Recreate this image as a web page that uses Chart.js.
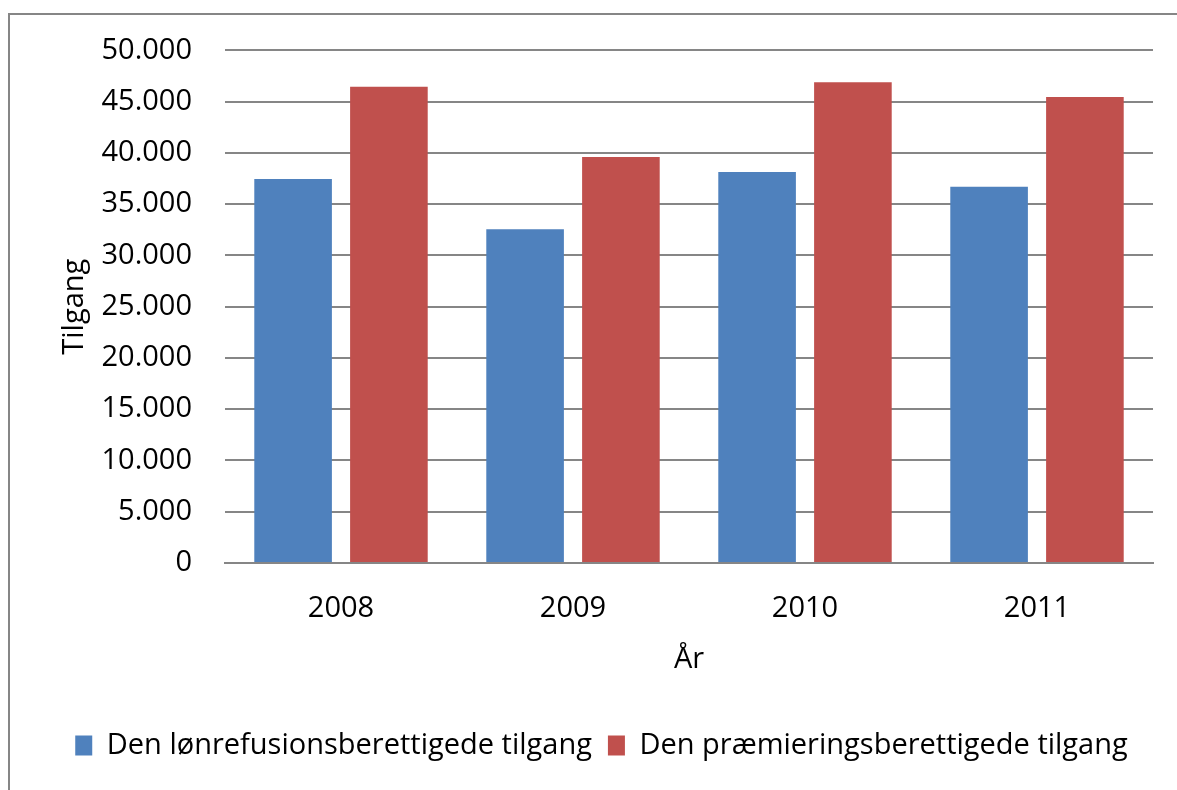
<!DOCTYPE html>
<html>
<head>
<meta charset="utf-8">
<script src="https://cdn.jsdelivr.net/npm/chart.js@4"></script>
<style>
    html, body { margin: 0; padding: 0; background: #fff; }
    #wrap { position: relative; width: 1177px; height: 790px; }
</style>
</head>
<body>
<div id="wrap"><canvas id="tilgangChart" width="1177" height="790"></canvas></div>
<script>
const years = ['2008', '2009', '2010', '2011'];
const loenrefusion = [37450, 32550, 38150, 36700];
const praemiering = [46450, 39600, 46900, 45450];
const seriesNames = ['Den lønrefusionsberettigede tilgang', 'Den præmieringsberettigede tilgang'];
const yTitle = 'Tilgang';
const xTitle = 'År';

const FONT = '"Open Sans", "DejaVu Sans", sans-serif';
const SIZE = 29;
const GRID = '#868686';

// thousands with dots, danish style
const fmt = (v) => String(v).replace(/\B(?=(\d{3})+(?!\d))/g, '.');

// the grey frame round the whole chart (runs off the right and bottom edge)
const framePlugin = {
    id: 'frame',
    beforeDraw(chart) {
        const ctx = chart.ctx;
        ctx.save();
        ctx.strokeStyle = GRID;
        ctx.lineWidth = 2;
        ctx.beginPath();
        ctx.moveTo(9, 800);
        ctx.lineTo(9, 14);
        ctx.lineTo(1190, 14);
        ctx.stroke();
        ctx.restore();
    }
};

new Chart('tilgangChart', {
    type: 'bar',
    data: {
        labels: years,
        datasets: [{
            label: seriesNames[0],
            data: loenrefusion,
            backgroundColor: '#4F81BD'
        }, {
            label: seriesNames[1],
            data: praemiering,
            backgroundColor: '#C0504D'
        }]
    },
    options: {
        responsive: false,
        animation: false,
        devicePixelRatio: 1,
        categoryPercentage: 0.826,
        barPercentage: 0.81,
        layout: { padding: { left: 50, top: 48, right: 24, bottom: 20 } },
        font: { family: FONT },
        scales: {
            x: {
                grid: { display: false, drawTicks: false },
                border: { display: true, color: GRID, width: 2 },
                ticks: { color: '#000', font: { family: FONT, size: SIZE }, padding: 28 },
                title: {
                    display: true, text: xTitle, color: '#000',
                    font: { family: FONT, size: SIZE },
                    padding: { top: 0, bottom: 38 }
                },
                afterFit: (s) => { s.height = 152; }
            },
            y: {
                min: 0,
                max: 50000,
                grid: { color: GRID, lineWidth: 2, drawTicks: false },
                border: { display: false },
                ticks: {
                    stepSize: 5000,
                    color: '#000',
                    padding: 33,
                    font: { family: FONT, size: SIZE },
                    callback: (v) => fmt(v)
                },
                title: {
                    display: true, text: yTitle, color: '#000',
                    font: { family: FONT, size: SIZE },
                    padding: { top: 7, bottom: 0 }
                },
                afterFit: (s) => { s.width = 175; }
            }
        },
        plugins: {
            legend: {
                position: 'bottom',
                labels: {
                    color: '#000',
                    font: { family: FONT, size: SIZE },
                    boxWidth: 17,
                    boxHeight: 20,
                    padding: 16
                }
            },
            tooltip: { enabled: false }
        }
    },
    plugins: [framePlugin]
});
</script>
</body>
</html>
